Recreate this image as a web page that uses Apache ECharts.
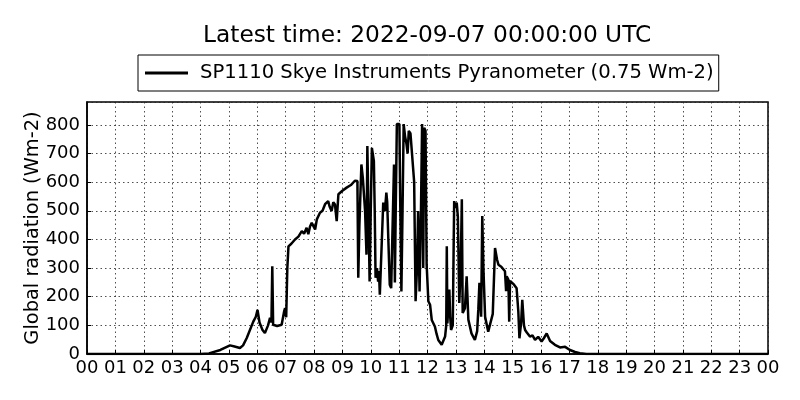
<!DOCTYPE html>
<html>
<head>
<meta charset="utf-8">
<script src="https://cdn.jsdelivr.net/npm/echarts@6/dist/echarts.min.js"></script>
<style>
html,body{margin:0;padding:0;background:#fff;}
#chart{width:800px;height:400px;}
</style>
</head>
<body>
<div id="chart"></div>
<script>
const titleText = 'Latest time: 2022-09-07 00:00:00 UTC';
const seriesName = 'SP1110 Skye Instruments Pyranometer (0.75 Wm-2)';
const yAxisName = 'Global radiation (Wm-2)';
const xTickLabels = ['00','01','02','03','04','05','06','07','08','09','10','11','12','13','14','15','16','17','18','19','20','21','22','23','00'];

// hours of day (UTC)
const hours = [
 0, 4.0, 4.3, 4.7, 5.04, 5.2, 5.39, 5.5, 5.63, 5.86, 5.95, 6.01, 6.08, 6.18, 6.27, 6.38, 6.45, 6.50, 6.53, 6.56,
 6.7, 6.86, 6.95, 6.98, 7.02, 7.06, 7.10, 7.2, 7.33, 7.45, 7.57, 7.65, 7.74, 7.80, 7.86, 7.92, 8.04, 8.1, 8.21, 8.30,
 8.39, 8.50, 8.55, 8.62, 8.68, 8.74, 8.80, 8.86, 8.92, 9.0, 9.15, 9.3, 9.44, 9.50, 9.53, 9.56, 9.60, 9.67, 9.72, 9.76,
 9.80, 9.85, 9.88, 9.92, 9.96, 10.0, 10.04, 10.11, 10.14, 10.17, 10.22, 10.26, 10.29, 10.32, 10.44, 10.50, 10.55, 10.58, 10.62, 10.67,
 10.72, 10.82, 10.85, 10.88, 10.92, 11.01, 11.04, 11.08, 11.12, 11.16, 11.21, 11.26, 11.30, 11.34, 11.40, 11.45, 11.53, 11.58, 11.63, 11.67,
 11.72, 11.77, 11.81, 11.85, 11.88, 11.93, 11.97, 12.03, 12.09, 12.15, 12.26, 12.32, 12.38, 12.50, 12.62, 12.66, 12.68, 12.70, 12.77, 12.80,
 12.83, 12.89, 12.94, 12.98, 13.03, 13.07, 13.12, 13.17, 13.21, 13.24, 13.32, 13.38, 13.44, 13.55, 13.67, 13.75, 13.79, 13.83, 13.89, 13.93,
 13.97, 14.03, 14.14, 14.2, 14.3, 14.38, 14.45, 14.50, 14.6, 14.67, 14.73, 14.77, 14.79, 14.85, 14.88, 14.91, 15.05, 15.14, 15.20, 15.24,
 15.30, 15.34, 15.40, 15.44, 15.5, 15.61, 15.7, 15.79, 15.9, 16.02, 16.1, 16.20, 16.32, 16.49, 16.67, 16.85, 17.02, 17.2, 17.37, 17.6,
 24
];
// global radiation (Wm-2)
const radiation = [
 0, 0, 2, 14, 30, 26, 21, 30, 56, 113, 130, 154, 110, 85, 73, 100, 126, 110, 306, 102,
 98, 102, 150, 160, 128, 300, 376, 385, 400, 410, 429, 420, 441, 418, 445, 458, 435, 470, 493, 500,
 523, 534, 515, 499, 530, 522, 464, 558, 564, 570, 581, 590, 605, 599, 604, 266, 450, 662, 616, 620,
 500, 347, 726, 500, 253, 500, 720, 674, 500, 266, 300, 253, 290, 207, 529, 500, 564, 530, 400, 242,
 230, 662, 250, 500, 803, 803, 520, 218, 500, 803, 760, 733, 700, 779, 770, 768, 600, 184, 300, 499,
 218, 500, 803, 300, 790, 780, 312, 184, 172, 119, 96, 70, 49, 32, 61, 100, 376, 107, 225, 130,
 84, 100, 534, 510, 529, 480, 178, 300, 540, 143, 160, 271, 120, 72, 49, 80, 154, 249, 130, 482,
 300, 130, 78, 80, 140, 370, 330, 312, 305, 307, 289, 219, 271, 260, 113, 255, 242, 230, 150, 55,
 110, 189, 100, 84, 75, 61, 65, 49, 60, 44, 55, 72, 45, 32, 23, 25, 14, 7, 3, 0,
 0
];

const chart = echarts.init(document.getElementById('chart'));
const FONT = 'DejaVu Sans';
const gridLine = {show: true, lineStyle: {color: '#222', width: 0.8, type: [1.5, 3]}};
chart.setOption({
  animation: false,
  backgroundColor: '#fff',
  textStyle: {fontFamily: FONT},
  title: {
    text: titleText,
    left: 203, top: 24, padding: 0,
    textStyle: {fontFamily: FONT, fontSize: 23.3, fontWeight: 'normal', color: '#000'}
  },
  legend: {
    data: [{name: seriesName, icon: 'rect'}],
    left: 138, top: 55,
    padding: [8, 5, 8, 7],
    borderColor: '#000', borderWidth: 1, borderRadius: 0,
    itemWidth: 43, itemHeight: 3,
    textStyle: {fontFamily: FONT, fontSize: 19.6, color: '#000', padding: [0, 0, 0, 7]}
  },
  grid: {left: 87, right: 32, top: 102, bottom: 46, show: true, borderColor: '#000', borderWidth: 1.5, containLabel: false},
  xAxis: {
    type: 'value', min: 0, max: 24, interval: 1,
    axisLine: {show: true, lineStyle: {color: '#000', width: 1.5}},
    axisTick: {show: true, inside: true, length: 4, lineStyle: {color: '#000'}},
    axisLabel: {fontFamily: FONT, fontSize: 18, color: '#000', margin: 5,
      formatter: v => xTickLabels[Math.round(v)]},
    splitLine: gridLine
  },
  yAxis: {
    type: 'value', min: 0, max: 880, interval: 100,
    name: yAxisName, nameLocation: 'middle', nameGap: 45, nameMoveOverlap: false,
    nameTextStyle: {fontFamily: FONT, fontSize: 19.4, color: '#000'},
    axisLine: {show: true, lineStyle: {color: '#000', width: 1.5}},
    axisTick: {show: true, inside: true, length: 4, lineStyle: {color: '#000'}},
    axisLabel: {fontFamily: FONT, fontSize: 18, color: '#000', margin: 7, showMaxLabel: false,
      formatter: v => (v > 800 ? '' : String(v))},
    splitLine: gridLine
  },
  series: [{
    name: seriesName,
    type: 'line',
    data: hours.map((h, i) => [h, radiation[i]]),
    showSymbol: false, symbol: 'none',
    lineStyle: {color: '#000', width: 2.5},
    itemStyle: {color: '#000'}
  }]
});
</script>
</body>
</html>
